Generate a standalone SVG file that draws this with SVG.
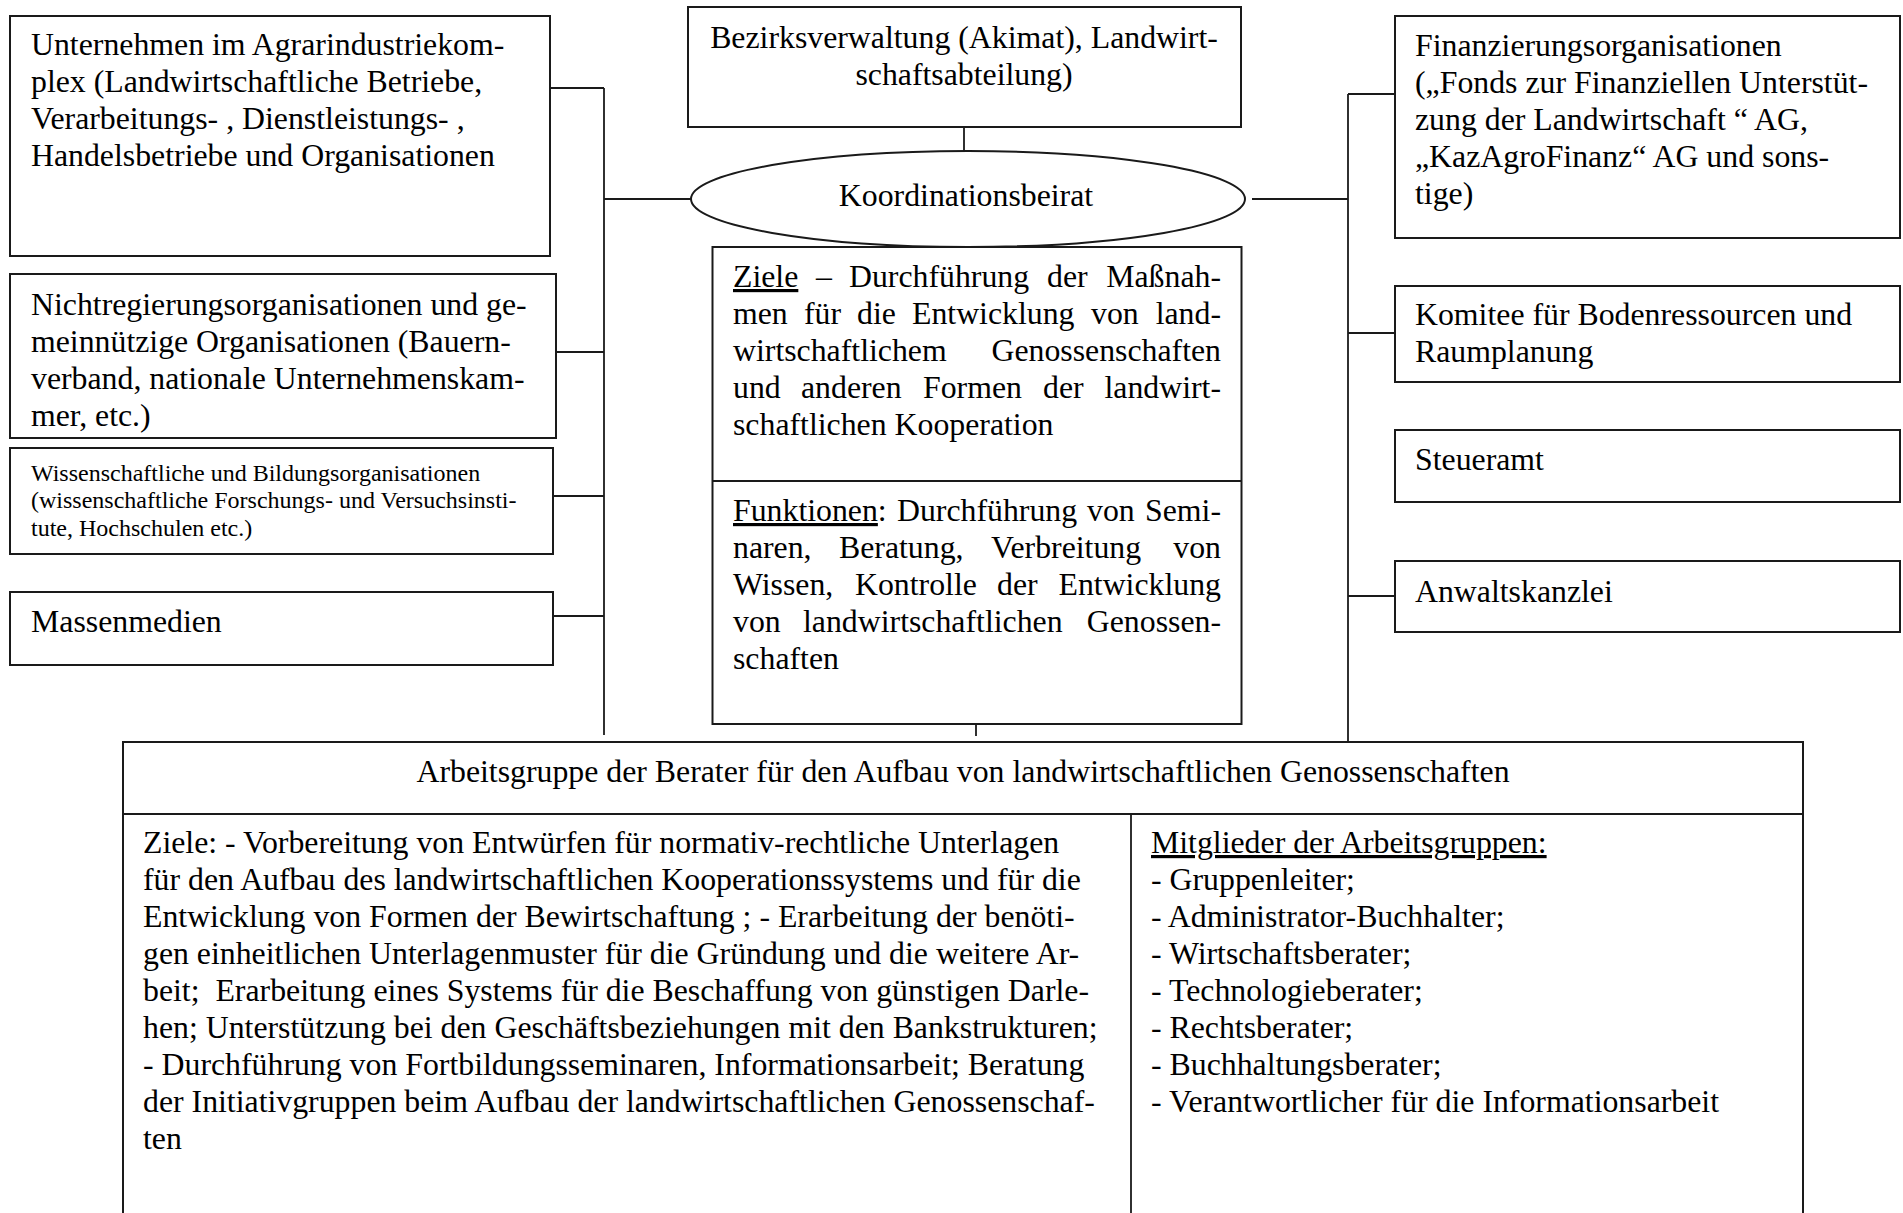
<svg xmlns="http://www.w3.org/2000/svg" width="1903" height="1213" viewBox="0 0 1903 1213">
<style>
  .box { fill: #fff; stroke: #1a1a1a; stroke-width: 2; }
  .ln { fill: none; stroke: #1a1a1a; stroke-width: 1.8; }
  text { font-family: "Liberation Serif", "Times New Roman", serif; font-size: 31.8px; fill: #000; }
  .sm { font-size: 24px; }
  .mid { text-anchor: middle; }
  .end { text-anchor: end; }
  .u { text-decoration: underline; }
</style>
<rect x="0" y="0" width="1903" height="1213" fill="#fff"/>

<g id="connectors">
  <line class="ln" x1="604" y1="88" x2="604" y2="735"/>
  <line class="ln" x1="550" y1="88" x2="604" y2="88"/>
  <line class="ln" x1="604" y1="199" x2="691" y2="199"/>
  <line class="ln" x1="556" y1="352" x2="604" y2="352"/>
  <line class="ln" x1="553" y1="496" x2="604" y2="496"/>
  <line class="ln" x1="553" y1="616" x2="604" y2="616"/>
  <line class="ln" x1="1348" y1="94" x2="1348" y2="742"/>
  <line class="ln" x1="1348" y1="94" x2="1395" y2="94"/>
  <line class="ln" x1="1252" y1="199" x2="1348" y2="199"/>
  <line class="ln" x1="1348" y1="333" x2="1395" y2="333"/>
  <line class="ln" x1="1348" y1="596" x2="1395" y2="596"/>
  <line class="ln" x1="964" y1="127" x2="964" y2="151"/>
  <line class="ln" x1="976" y1="713" x2="976" y2="736"/>
</g>

<g id="unternehmen">
  <rect class="box" x="10" y="16" width="540" height="240"/>
  <text x="31" y="55">Unternehmen im Agrarindustriekom-</text>
  <text x="31" y="92">plex (Landwirtschaftliche Betriebe,</text>
  <text x="31" y="129">Verarbeitungs- , Dienstleistungs- ,</text>
  <text x="31" y="166">Handelsbetriebe und Organisationen</text>
</g>

<g id="nichtregierung">
  <rect class="box" x="10" y="274" width="546" height="164"/>
  <text x="31" y="315">Nichtregierungsorganisationen und ge-</text>
  <text x="31" y="352">meinnützige Organisationen (Bauern-</text>
  <text x="31" y="389">verband, nationale Unternehmenskam-</text>
  <text x="31" y="426">mer, etc.)</text>
</g>

<g id="wissenschaft">
  <rect class="box" x="10" y="448" width="543" height="106"/>
  <text class="sm" x="31" y="481">Wissenschaftliche und Bildungsorganisationen</text>
  <text class="sm" x="31" y="508">(wissenschaftliche Forschungs- und Versuchsinsti-</text>
  <text class="sm" x="31" y="536">tute, Hochschulen etc.)</text>
</g>

<g id="massenmedien">
  <rect class="box" x="10" y="592" width="543" height="73"/>
  <text x="31" y="632">Massenmedien</text>
</g>

<g id="bezirksverwaltung">
  <rect class="box" x="688" y="7" width="553" height="120"/>
  <text class="mid" x="964" y="48">Bezirksverwaltung (Akimat), Landwirt-</text>
  <text class="mid" x="964" y="85">schaftsabteilung)</text>
</g>

<g id="koordinationsbeirat">
  <ellipse class="box" cx="968" cy="199" rx="277" ry="48"/>
  <text class="mid" x="966" y="206">Koordinationsbeirat</text>
</g>

<g id="ziele-funktionen">
  <rect class="box" x="712.5" y="247" width="529" height="477"/>
  <line class="ln" x1="712.5" y1="481" x2="1241.5" y2="481"/>
  <text y="287"><tspan x="733" class="u">Ziele</tspan><tspan x="816">–</tspan><tspan x="849">Durchführung</tspan><tspan x="1047">der</tspan></text>
  <text class="end" x="1221" y="287">Maßnah-</text>
  <text y="324"><tspan x="733">men</tspan><tspan x="804">für</tspan><tspan x="857">die</tspan><tspan x="912">Entwicklung</tspan><tspan x="1091">von</tspan></text>
  <text class="end" x="1221" y="324">land-</text>
  <text x="733" y="361">wirtschaftlichem</text>
  <text class="end" x="1221" y="361">Genossenschaften</text>
  <text y="398"><tspan x="733">und</tspan><tspan x="801">anderen</tspan><tspan x="923">Formen</tspan><tspan x="1043">der</tspan></text>
  <text class="end" x="1221" y="398">landwirt-</text>
  <text x="733" y="435">schaftlichen Kooperation</text>

  <text y="521"><tspan x="733" class="u">Funktionen</tspan><tspan>:</tspan><tspan x="897">Durchführung</tspan><tspan x="1087">von</tspan></text>
  <text class="end" x="1221" y="521">Semi-</text>
  <text y="558"><tspan x="733">naren,</tspan><tspan x="839">Beratung,</tspan><tspan x="991">Verbreitung</tspan></text>
  <text class="end" x="1221" y="558">von</text>
  <text y="595"><tspan x="733">Wissen,</tspan><tspan x="855">Kontrolle</tspan><tspan x="997">der</tspan></text>
  <text class="end" x="1221" y="595">Entwicklung</text>
  <text y="632"><tspan x="733">von</tspan><tspan x="803">landwirtschaftlichen</tspan></text>
  <text class="end" x="1221" y="632">Genossen-</text>
  <text x="733" y="669">schaften</text>
</g>

<g id="finanzierung">
  <rect class="box" x="1395" y="16" width="505" height="222"/>
  <text x="1415" y="56">Finanzierungsorganisationen</text>
  <text x="1415" y="93">(„Fonds zur Finanziellen Unterstüt-</text>
  <text x="1415" y="130">zung der Landwirtschaft “ AG,</text>
  <text x="1415" y="167">„KazAgroFinanz“ AG und sons-</text>
  <text x="1415" y="204">tige)</text>
</g>

<g id="komitee">
  <rect class="box" x="1395" y="286" width="505" height="96"/>
  <text x="1415" y="325">Komitee für Bodenressourcen und</text>
  <text x="1415" y="362">Raumplanung</text>
</g>

<g id="steueramt">
  <rect class="box" x="1395" y="430" width="505" height="72"/>
  <text x="1415" y="470">Steueramt</text>
</g>

<g id="anwaltskanzlei">
  <rect class="box" x="1395" y="561" width="505" height="71"/>
  <text x="1415" y="602">Anwaltskanzlei</text>
</g>

<g id="arbeitsgruppe">
  <rect class="box" x="123" y="742" width="1680" height="490"/>
  <line class="ln" x1="123" y1="814" x2="1803" y2="814"/>
  <line class="ln" x1="1131" y1="814" x2="1131" y2="1213"/>
  <text class="mid" x="963" y="782">Arbeitsgruppe der Berater für den Aufbau von landwirtschaftlichen Genossenschaften</text>
  <text x="143" y="853">Ziele: - Vorbereitung von Entwürfen für normativ-rechtliche Unterlagen</text>
  <text x="143" y="890">für den Aufbau des landwirtschaftlichen Kooperationssystems und für die</text>
  <text x="143" y="927">Entwicklung von Formen der Bewirtschaftung ; - Erarbeitung der benöti-</text>
  <text x="143" y="964">gen einheitlichen Unterlagenmuster für die Gründung und die weitere Ar-</text>
  <text x="143" y="1001" xml:space="preserve">beit;  Erarbeitung eines Systems für die Beschaffung von günstigen Darle-</text>
  <text x="143" y="1038">hen; Unterstützung bei den Geschäftsbeziehungen mit den Bankstrukturen;</text>
  <text x="143" y="1075">- Durchführung von Fortbildungsseminaren, Informationsarbeit; Beratung</text>
  <text x="143" y="1112">der Initiativgruppen beim Aufbau der landwirtschaftlichen Genossenschaf-</text>
  <text x="143" y="1149">ten</text>
  <text class="u" x="1151" y="853">Mitglieder der Arbeitsgruppen:</text>
  <text x="1151" y="890">- Gruppenleiter;</text>
  <text x="1151" y="927">- Administrator-Buchhalter;</text>
  <text x="1151" y="964">- Wirtschaftsberater;</text>
  <text x="1151" y="1001">- Technologieberater;</text>
  <text x="1151" y="1038">- Rechtsberater;</text>
  <text x="1151" y="1075">- Buchhaltungsberater;</text>
  <text x="1151" y="1112">- Verantwortlicher für die Informationsarbeit</text>
</g>
</svg>
